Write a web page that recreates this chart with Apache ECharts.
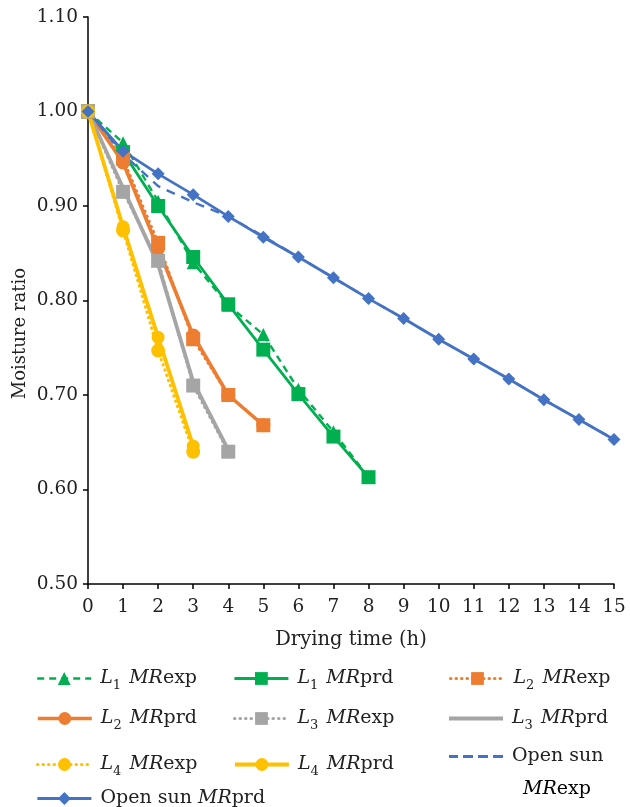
<!DOCTYPE html>
<html>
<head>
<meta charset="utf-8">
<script src="https://cdn.jsdelivr.net/npm/echarts@6/dist/echarts.min.js"></script>
<style>
html,body{margin:0;padding:0;background:#fff;}
#chart{width:630px;height:807px;}
</style>
</head>
<body>
<div id="chart"></div>
<script>
// ---- data ----
var hours = [0,1,2,3,4,5,6,7,8,9,10,11,12,13,14,15];
var yTicks = [0.50,0.60,0.70,0.80,0.90,1.00,1.10];
var L1_exp = [1.00, 0.967, 0.905, 0.840, 0.795, 0.764, 0.706, 0.661, 0.613];
var L1_prd = [1.00, 0.957, 0.900, 0.846, 0.796, 0.748, 0.701, 0.656, 0.613];
var L2_exp = [1.00, 0.950, 0.861, 0.759, 0.700, 0.668];
var L2_prd = [1.00, 0.946, 0.855, 0.763, 0.700, 0.668];
var L3_exp = [1.00, 0.915, 0.842, 0.710, 0.640];
var L3_prd = [1.00, 0.919, 0.838, 0.714, 0.642];
var L4_exp = [1.00, 0.874, 0.747, 0.640];
var L4_prd = [1.00, 0.878, 0.761, 0.646];
var OS_exp = [1.00, 0.955, 0.921, 0.904, 0.889, 0.868, 0.846, 0.824, 0.802, 0.781, 0.759, 0.738, 0.717, 0.695, 0.674, 0.653];
var OS_prd = [1.00, 0.958, 0.934, 0.912, 0.889, 0.867, 0.846, 0.824, 0.802, 0.781, 0.759, 0.738, 0.717, 0.695, 0.674, 0.653];

var names = ['L1 MRexp','L1 MRprd','L2 MRexp','L2 MRprd','L3 MRexp','L3 MRprd','L4 MRexp','L4 MRprd','Open sun MRexp','Open sun MRprd'];

var GREEN='#00B050', ORANGE='#ED7D31', GRAY='#A5A5A5', YELLOW='#FFC000', BLUE='#4472C4';
var FONT='DejaVu Serif';

function pairs(arr){ return arr.map(function(v,i){ return [hours[i], v]; }); }

var DOT=[0.5,5];
function mk(name, data, color, lineType, width, symbol, size){
  return {
    name: name, type: 'line', data: pairs(data),
    symbol: symbol || 'none', symbolSize: size || 0,
    showSymbol: !!symbol,
    lineStyle: {color: color, width: width, type: lineType, cap: lineType===DOT?'round':'butt'},
    itemStyle: {color: color},
    animation: false, z: 2
  };
}
var series = [
  mk(names[0], L1_exp, GREEN, [7,5], 2.4, 'triangle', 13),
  mk(names[1], L1_prd, GREEN, 'solid', 2.8, 'rect', 14),
  mk(names[2], L2_exp, ORANGE, DOT, 3, 'rect', 14),
  mk(names[3], L2_prd, ORANGE, 'solid', 3.6, 'circle', 14),
  mk(names[4], L3_exp, GRAY, DOT, 3, 'rect', 14),
  mk(names[5], L3_prd, GRAY, 'solid', 3.8, null, 0),
  mk(names[6], L4_exp, YELLOW, DOT, 3, 'circle', 14),
  mk(names[7], L4_prd, YELLOW, 'solid', 3.8, 'circle', 13),
  mk(names[8], OS_exp, BLUE, [9,7], 2.4, null, 0),
  mk(names[9], OS_prd, BLUE, 'solid', 2.8, 'diamond', 13)
];

var rich = {
  i: {fontFamily: FONT, fontStyle: 'italic', fontSize: 19, color: '#222'},
  n: {fontFamily: FONT, fontSize: 19, color: '#222'},
  s: {fontFamily: FONT, fontSize: 13, color: '#222', padding: [15,2,0,0]}
};
function legendLabel(name){
  var m = name.match(/^L(\d) MR(\w+)$/);
  if (m) return '{i|L}{s|' + m[1] + '}{n| }{i|MR}{n|' + m[2] + '}';
  if (name === 'Open sun MRexp') return '{n|Open sun}';
  return '{n|Open sun }{i|MR}{n|prd}';
}
var legendPos = [
  [36, 669], [233, 669], [449, 669],
  [36, 709], [233, 709], [449, 709],
  [36, 755], [233, 755], [449, 747],
  [36, 789]
];
// custom icons for series without markers (plain line / dashed line)
var iconSolid = 'path://M0,0h54v4H0z';
var iconDashed = 'path://M0,0h9v3H0z M14,0h10v3H14z M29,0h10v3H29z M44,0h10v3H44z';
var legends = names.map(function(n, k){
  var item = {name: n};
  if (k === 5) item.icon = iconSolid;
  if (k === 8) item.icon = iconDashed;
  return {
    data: [item], left: legendPos[k][0], top: legendPos[k][1],
    itemWidth: 54, itemHeight: 16, itemGap: 0, padding: 0,
    selectedMode: false,
    lineStyle: {width: 'inherit'},
    formatter: legendLabel,
    textStyle: {rich: rich, padding: [0,0,0,4]}
  };
});

var chart = echarts.init(document.getElementById('chart'), null, {renderer: 'canvas'});
chart.setOption({
  backgroundColor: '#fff',
  animation: false,
  grid: {left: 88, right: 16, top: 17, bottom: 223},
  legend: legends,
  xAxis: {
    type: 'value', min: 0, max: 15, interval: 1,
    name: 'Drying time (h)', nameLocation: 'middle', nameGap: 46,
    nameTextStyle: {fontFamily: FONT, fontSize: 19.5, color: '#222'},
    axisLine: {lineStyle: {color: '#000', width: 1.5}},
    axisTick: {length: 5, lineStyle: {color: '#000', width: 1.5}},
    axisLabel: {fontFamily: FONT, fontSize: 18.5, color: '#222', margin: 14},
    splitLine: {show: false}
  },
  yAxis: {
    type: 'value', min: 0.5, max: 1.1, interval: 0.1,
    axisLine: {show: true, lineStyle: {color: '#000', width: 1.5}},
    axisTick: {show: true, length: 5, lineStyle: {color: '#000', width: 1.5}},
    axisLabel: {fontFamily: FONT, fontSize: 18.5, color: '#222', margin: 10,
      formatter: function(v){ return v.toFixed(2); }},
    splitLine: {show: false}
  },
  graphic: [
    {type: 'text', left: 11, top: 268, rotation: Math.PI/2,
     style: {text: 'Moisture ratio', font: '18px "DejaVu Serif"', fill: '#222'}},
    {type: 'text', left: 523, top: 780,
     style: {text: '{i|MR}{n|exp}', rich: rich}}
  ],
  series: series
});
</script>
</body>
</html>
